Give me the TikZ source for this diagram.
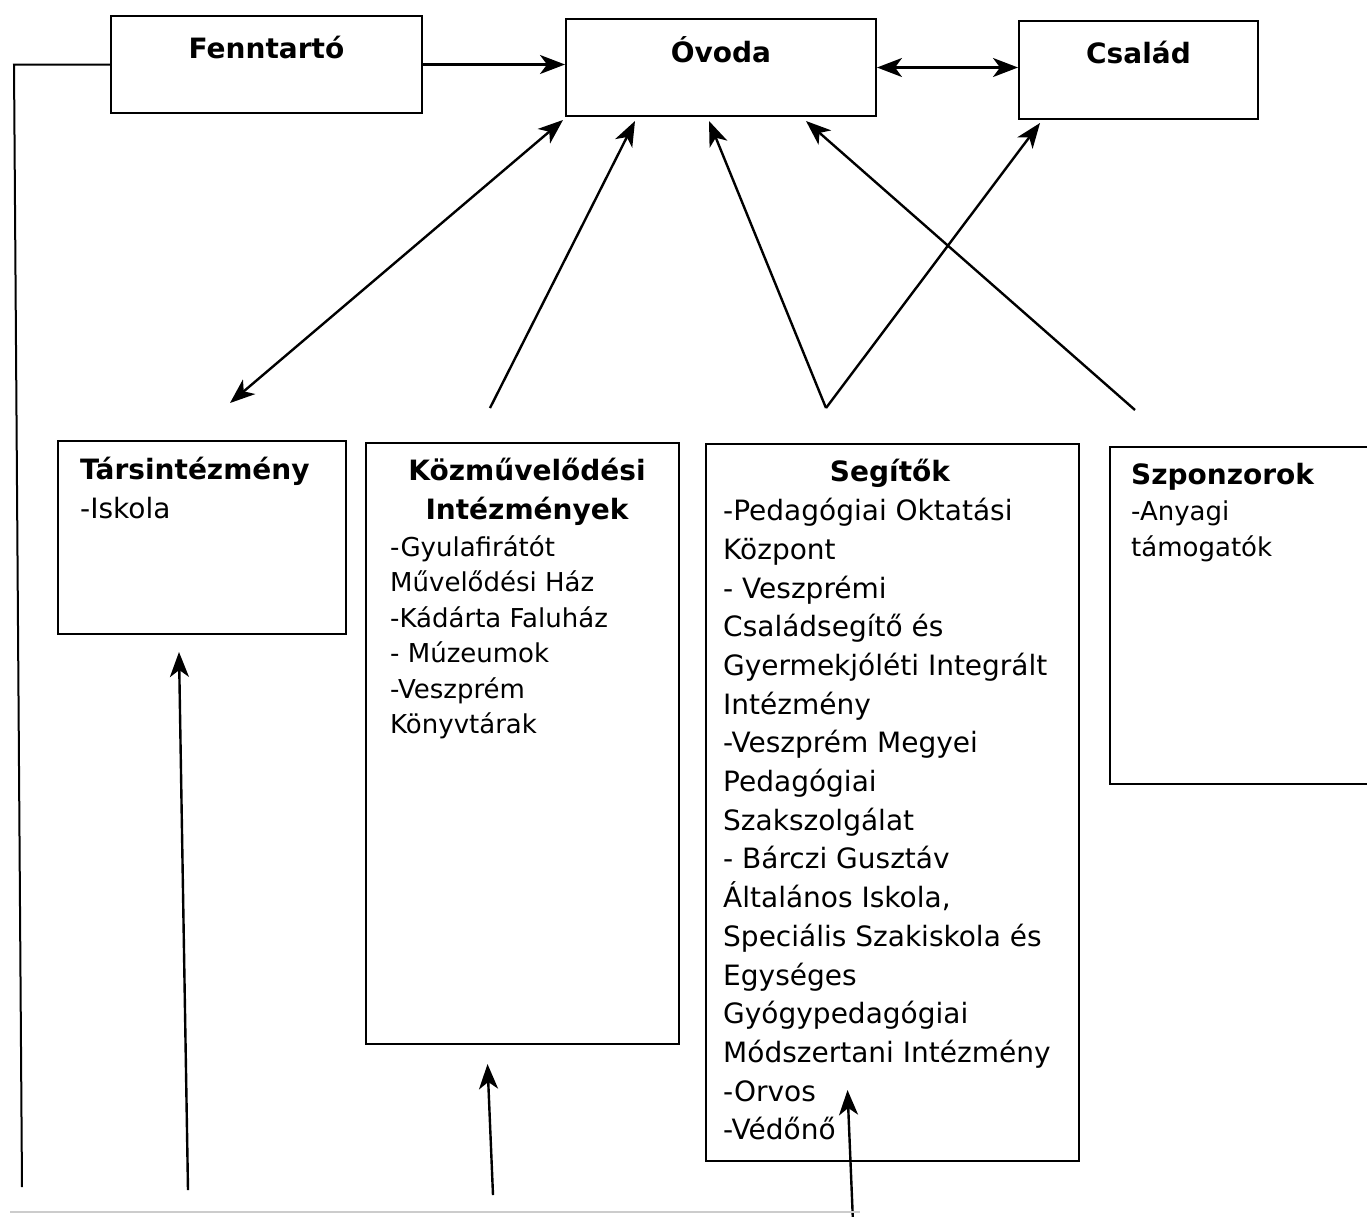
\documentclass[tikz,border=0pt]{standalone}
\usepackage{fontspec}
\setmainfont{DejaVu Sans}
\usetikzlibrary{calc,arrows.meta}
\begin{document}
\begin{tikzpicture}[x=1pt,y=-1pt,
  box/.style={draw,line width=2pt,anchor=north west,inner sep=0pt},
  title/.style={font=\bfseries\fontsize{28}{38.7}\selectfont,inner sep=0pt},
  body/.style={font=\fontsize{28}{38.7}\selectfont,align=left,inner sep=0pt,anchor=north west},
  small/.style={font=\fontsize{26}{35.5}\selectfont,align=left,inner sep=0pt,anchor=north west},
  arr/.style={-{Stealth[length=25pt,width=19pt,inset=7pt]},line width=2.4pt},
  dbl/.style={{Stealth[length=25pt,width=19pt,inset=7pt]}-{Stealth[length=25pt,width=19pt,inset=7pt]},line width=2.4pt}]
\clip (0,0) rectangle (1367,1216);
\fill[white] (0,0) rectangle (1367,1216);
\node[box,minimum width=311pt,minimum height=97pt] (fenn) at (110,15) {};
\node[box,minimum width=310pt,minimum height=97pt] (ovoda) at (565,18) {};
\node[box,minimum width=239pt,minimum height=98pt] (csalad) at (1018,20) {};
\node[box,minimum width=288pt,minimum height=193pt] (tars) at (57,440) {};
\node[box,minimum width=313pt,minimum height=601pt] (kozm) at (365,442) {};
\node[box,minimum width=373pt,minimum height=717pt] (segit) at (705,443) {};
\node[box,minimum width=280pt,minimum height=337pt] (szponz) at (1109,446) {};
\node[title] (fenntxt) at ($(fenn.north)+(0,32)$) {Fenntartó};
\node[title] (ovodatxt) at ($(ovoda.north)+(0,32)$) {Óvoda};
\node[title] (csaladtxt) at ($(csalad.north)+(0,32)$) {Család};
\node[body] (tarstxt) at (80,457) {\textbf{Társintézmény}\\-Iskola};
\node[title,align=center,anchor=north] (kozmcim) at (527,458) {Közművelődési\\Intézmények};
\node[small] (kozmtxt) at (390,535) {-Gyulafirátót\\Művelődési Ház\\-Kádárta Faluház\\- Múzeumok\\-Veszprém\\Könyvtárak};
\node[title,anchor=north] (segitcim) at (890,459) {Segítők};
\node[body] (segittxt) at (723,498) {-Pedagógiai Oktatási\\Központ\\- Veszprémi\\Családsegítő és\\Gyermekjóléti Integrált\\Intézmény\\-Veszprém Megyei\\Pedagógiai\\Szakszolgálat\\- Bárczi Gusztáv\\Általános Iskola,\\Speciális Szakiskola és\\Egységes\\Gyógypedagógiai\\Módszertani Intézmény\\-Orvos\\-Védőnő};
\node[title,anchor=north west] (szponzcim) at (1131,463) {Szponzorok};
\node[small] (szponztxt) at (1131,501) {-Anyagi\\támogatók};
\coordinate (a1) at (230,403);
\coordinate (a2) at (490,408);
\coordinate (a3) at (826,408);
\coordinate (a4) at (1135,410);
\coordinate (b1) at (188,1190);
\coordinate (b2) at (493,1195);
\coordinate (b3) at (853,1222);
\coordinate (bal) at (22,1187);
\draw[arr] (fenn.east) -- (fenn.east -| ovoda.west);
\draw[dbl] (ovoda.east) -- (ovoda.east -| csalad.west);
\draw[line width=2pt] (fenn.west) -- (fenn.west -| 14,0) -- (bal);
\draw[dbl] (a1) -- ($(ovoda.south west)+(-2,3)$);
\draw[arr] (a2) -- ($(ovoda.south west)+(70,4)$);
\draw[arr] (a3) -- ($(ovoda.south)+(-12,4)$);
\draw[arr] (a3) -- ($(csalad.south west)+(22,3)$);
\draw[arr] (a4) -- ($(ovoda.south)+(85,4)$);
\draw[arr] (b1) -- ($(tars.south)+(-23,17)$);
\draw[arr] (b2) -- ($(kozm.south)+(-35,19)$);
\draw[arr] (b3) -- ($(segit.south)+(-45,-72)$);
\draw[gray!40,line width=1.5pt] (10,1212) -- (860,1212);
\end{tikzpicture}
\end{document}
